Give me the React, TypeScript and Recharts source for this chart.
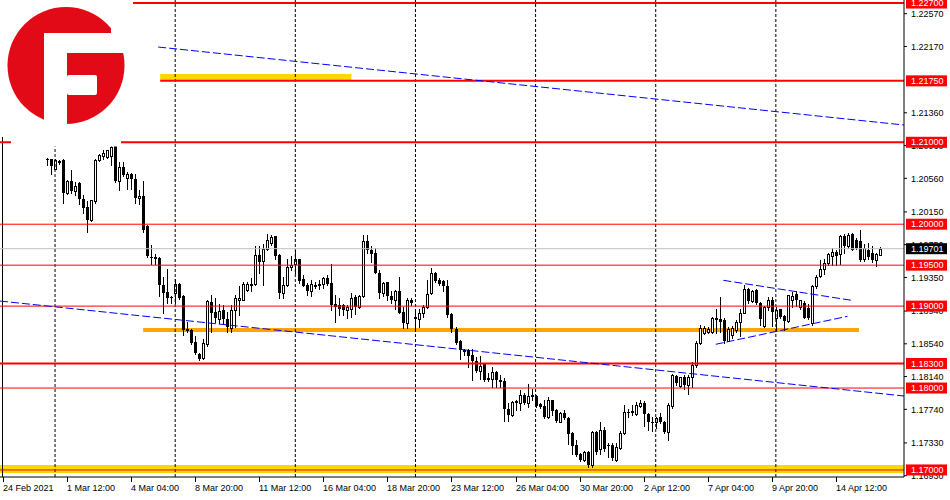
import React from 'react';
import { ComposedChart, Bar, XAxis, YAxis, ReferenceLine, ReferenceArea } from 'recharts';

// EURUSD H4, bars indexed from 24 Feb 2021 (bar 0). First readable bar is 11.
const FIRST_BAR = 11;

const opens = [
  1.2080, 1.2079, 1.2068, 1.2076, 1.2078, 1.2038, 1.2053, 1.2040, 1.2050, 1.2031,
  1.2021, 1.2005, 1.2028, 1.2078, 1.2083, 1.2082, 1.2083, 1.2098, 1.2053, 1.2070,
  1.2057, 1.2061, 1.2055, 1.2032, 1.2035, 1.1998, 1.1960, 1.1959, 1.1959, 1.1926,
  1.1917, 1.1911, 1.1916, 1.1927, 1.1912, 1.1872, 1.1871, 1.1856, 1.1842, 1.1837,
  1.1854, 1.1905, 1.1893, 1.1884, 1.1895, 1.1884, 1.1873, 1.1895, 1.1907, 1.1908,
  1.1920, 1.1926, 1.1927, 1.1963, 1.1955, 1.1970, 1.1977, 1.1985, 1.1962, 1.1916,
  1.1926, 1.1948, 1.1951, 1.1957, 1.1933, 1.1926, 1.1919, 1.1925, 1.1926, 1.1927,
  1.1934, 1.1928, 1.1902, 1.1901, 1.1901, 1.1895, 1.1897, 1.1911, 1.1899, 1.1912,
  1.1980, 1.1969, 1.1965, 1.1941, 1.1916, 1.1929, 1.1912, 1.1908, 1.1918, 1.1893,
  1.1880, 1.1908, 1.1887, 1.1884, 1.1892, 1.1899, 1.1916, 1.1941, 1.1932, 1.1931,
  1.1925, 1.1890, 1.1872, 1.1857, 1.1845, 1.1847, 1.1840, 1.1833, 1.1821, 1.1830,
  1.1812, 1.1811, 1.1820, 1.1810, 1.1808, 1.1774, 1.1767, 1.1783, 1.1782, 1.1792,
  1.1782, 1.1790, 1.1790, 1.1780, 1.1778, 1.1765, 1.1785, 1.1773, 1.1759, 1.1769,
  1.1764, 1.1745, 1.1731, 1.1720, 1.1712, 1.1722, 1.1706, 1.1746, 1.1725, 1.1749,
  1.1731, 1.1731, 1.1712, 1.1727, 1.1745, 1.1771, 1.1771, 1.1768, 1.1778, 1.1782,
  1.1768, 1.1759, 1.1758, 1.1765, 1.1759, 1.1746, 1.1778, 1.1815, 1.1803, 1.1814,
  1.1804, 1.1813, 1.1828, 1.1855, 1.1867, 1.1869, 1.1869, 1.1885, 1.1884, 1.1883,
  1.1858, 1.1865, 1.1871, 1.1881, 1.1892, 1.1921, 1.1906, 1.1920, 1.1904, 1.1876,
  1.1899, 1.1908, 1.1886, 1.1896, 1.1888, 1.1882, 1.1908, 1.1915, 1.1899, 1.1904,
  1.1898, 1.1880, 1.1924, 1.1937, 1.1945, 1.1953, 1.1961, 1.1966, 1.1964, 1.1985,
  1.1973, 1.1988, 1.1981, 1.1980, 1.1957, 1.1969, 1.1965, 1.1956, 1.1963,
];

const highs = [
  1.2081, 1.2080, 1.2079, 1.2078, 1.2079, 1.2054, 1.2066, 1.2051, 1.2051, 1.2036,
  1.2028, 1.2030, 1.2079, 1.2086, 1.2090, 1.2091, 1.2095, 1.2099, 1.2076, 1.2076,
  1.2064, 1.2062, 1.2061, 1.2042, 1.2053, 1.1999, 1.1975, 1.1964, 1.1960, 1.1936,
  1.1945, 1.1912, 1.1933, 1.1928, 1.1913, 1.1881, 1.1872, 1.1864, 1.1843, 1.1860,
  1.1907, 1.1914, 1.1910, 1.1903, 1.1901, 1.1893, 1.1901, 1.1914, 1.1924, 1.1929,
  1.1930, 1.1934, 1.1973, 1.1974, 1.1976, 1.1988, 1.1987, 1.1986, 1.1964, 1.1935,
  1.1958, 1.1961, 1.1968, 1.1958, 1.1938, 1.1928, 1.1932, 1.1930, 1.1932, 1.1936,
  1.1938, 1.1952, 1.1914, 1.1910, 1.1903, 1.1901, 1.1916, 1.1914, 1.1914, 1.1987,
  1.1987, 1.1973, 1.1971, 1.1944, 1.1930, 1.1930, 1.1918, 1.1920, 1.1936, 1.1899,
  1.1910, 1.1910, 1.1897, 1.1897, 1.1901, 1.1932, 1.1946, 1.1942, 1.1934, 1.1932,
  1.1932, 1.1891, 1.1875, 1.1859, 1.1848, 1.1848, 1.1848, 1.1838, 1.1839, 1.1831,
  1.1818, 1.1826, 1.1821, 1.1816, 1.1812, 1.1782, 1.1784, 1.1785, 1.1797, 1.1794,
  1.1805, 1.1799, 1.1791, 1.1782, 1.1785, 1.1789, 1.1786, 1.1774, 1.1771, 1.1773,
  1.1765, 1.1746, 1.1737, 1.1721, 1.1723, 1.1723, 1.1748, 1.1748, 1.1759, 1.1753,
  1.1733, 1.1733, 1.1733, 1.1748, 1.1779, 1.1775, 1.1779, 1.1783, 1.1785, 1.1784,
  1.1769, 1.1765, 1.1765, 1.1769, 1.1760, 1.1782, 1.1817, 1.1816, 1.1814, 1.1816,
  1.1816, 1.1832, 1.1857, 1.1877, 1.1876, 1.1875, 1.1887, 1.1897, 1.1911, 1.1885,
  1.1874, 1.1876, 1.1883, 1.1897, 1.1926, 1.1922, 1.1920, 1.1921, 1.1905, 1.1900,
  1.1911, 1.1911, 1.1899, 1.1897, 1.1889, 1.1914, 1.1917, 1.1919, 1.1908, 1.1906,
  1.1903, 1.1926, 1.1938, 1.1956, 1.1957, 1.1965, 1.1971, 1.1968, 1.1987, 1.1988,
  1.1989, 1.1989, 1.1983, 1.1993, 1.1976, 1.1977, 1.1974, 1.1965, 1.1972,
];

const lows = [
  1.2072, 1.2061, 1.2067, 1.2073, 1.2026, 1.2037, 1.2038, 1.2036, 1.2025, 1.2014,
  1.1990, 1.2004, 1.2026, 1.2077, 1.2079, 1.2081, 1.2072, 1.2052, 1.2042, 1.2059,
  1.2043, 1.2043, 1.2026, 1.2025, 1.1991, 1.1960, 1.1951, 1.1951, 1.1912, 1.1892,
  1.1904, 1.1904, 1.1904, 1.1909, 1.1865, 1.1869, 1.1854, 1.1842, 1.1834, 1.1836,
  1.1851, 1.1869, 1.1881, 1.1879, 1.1878, 1.1869, 1.1868, 1.1875, 1.1889, 1.1907,
  1.1919, 1.1919, 1.1926, 1.1940, 1.1926, 1.1969, 1.1975, 1.1957, 1.1910, 1.1910,
  1.1924, 1.1944, 1.1940, 1.1928, 1.1924, 1.1914, 1.1912, 1.1922, 1.1921, 1.1922,
  1.1926, 1.1895, 1.1881, 1.1889, 1.1889, 1.1885, 1.1887, 1.1890, 1.1898, 1.1911,
  1.1965, 1.1954, 1.1940, 1.1910, 1.1912, 1.1908, 1.1904, 1.1897, 1.1891, 1.1873,
  1.1873, 1.1901, 1.1873, 1.1875, 1.1887, 1.1898, 1.1915, 1.1930, 1.1926, 1.1918,
  1.1887, 1.1869, 1.1854, 1.1835, 1.1840, 1.1826, 1.1810, 1.1820, 1.1811, 1.1809,
  1.1808, 1.1801, 1.1801, 1.1801, 1.1760, 1.1760, 1.1766, 1.1773, 1.1773, 1.1781,
  1.1777, 1.1785, 1.1777, 1.1776, 1.1763, 1.1763, 1.1767, 1.1759, 1.1758, 1.1762,
  1.1732, 1.1720, 1.1717, 1.1711, 1.1711, 1.1704, 1.1704, 1.1719, 1.1719, 1.1723,
  1.1716, 1.1712, 1.1711, 1.1725, 1.1744, 1.1765, 1.1767, 1.1767, 1.1777, 1.1754,
  1.1749, 1.1748, 1.1751, 1.1757, 1.1745, 1.1737, 1.1776, 1.1804, 1.1801, 1.1799,
  1.1793, 1.1801, 1.1826, 1.1854, 1.1866, 1.1867, 1.1867, 1.1867, 1.1869, 1.1855,
  1.1857, 1.1861, 1.1869, 1.1863, 1.1891, 1.1904, 1.1905, 1.1903, 1.1877, 1.1875,
  1.1895, 1.1876, 1.1871, 1.1886, 1.1871, 1.1881, 1.1899, 1.1900, 1.1897, 1.1885,
  1.1884, 1.1877, 1.1922, 1.1936, 1.1939, 1.1950, 1.1950, 1.1950, 1.1952, 1.1965,
  1.1971, 1.1968, 1.1970, 1.1955, 1.1955, 1.1958, 1.1954, 1.1949, 1.1962,
];

const closes = [
  1.2078, 1.2071, 1.2078, 1.2077, 1.2038, 1.2053, 1.2040, 1.2047, 1.2031, 1.2020,
  1.2005, 1.2029, 1.2078, 1.2085, 1.2087, 1.2090, 1.2094, 1.2053, 1.2070, 1.2060,
  1.2061, 1.2055, 1.2032, 1.2035, 1.1993, 1.1961, 1.1959, 1.1960, 1.1926, 1.1916,
  1.1910, 1.1910, 1.1927, 1.1910, 1.1871, 1.1870, 1.1855, 1.1843, 1.1836, 1.1855,
  1.1906, 1.1891, 1.1885, 1.1894, 1.1884, 1.1874, 1.1895, 1.1910, 1.1910, 1.1927,
  1.1927, 1.1927, 1.1962, 1.1954, 1.1970, 1.1981, 1.1984, 1.1961, 1.1916, 1.1926,
  1.1948, 1.1950, 1.1958, 1.1931, 1.1925, 1.1919, 1.1927, 1.1926, 1.1927, 1.1934,
  1.1927, 1.1901, 1.1899, 1.1897, 1.1895, 1.1899, 1.1910, 1.1899, 1.1912, 1.1979,
  1.1968, 1.1964, 1.1941, 1.1916, 1.1928, 1.1912, 1.1908, 1.1918, 1.1892, 1.1880,
  1.1908, 1.1904, 1.1884, 1.1892, 1.1899, 1.1915, 1.1941, 1.1931, 1.1927, 1.1925,
  1.1889, 1.1872, 1.1855, 1.1846, 1.1846, 1.1839, 1.1833, 1.1821, 1.1827, 1.1810,
  1.1810, 1.1820, 1.1810, 1.1807, 1.1774, 1.1767, 1.1783, 1.1784, 1.1792, 1.1782,
  1.1790, 1.1791, 1.1778, 1.1777, 1.1765, 1.1786, 1.1772, 1.1760, 1.1769, 1.1763,
  1.1744, 1.1729, 1.1718, 1.1712, 1.1722, 1.1706, 1.1746, 1.1722, 1.1749, 1.1725,
  1.1729, 1.1714, 1.1728, 1.1745, 1.1771, 1.1770, 1.1772, 1.1779, 1.1782, 1.1768,
  1.1758, 1.1757, 1.1764, 1.1758, 1.1746, 1.1779, 1.1816, 1.1806, 1.1813, 1.1804,
  1.1814, 1.1828, 1.1855, 1.1873, 1.1873, 1.1872, 1.1885, 1.1883, 1.1881, 1.1857,
  1.1872, 1.1873, 1.1881, 1.1892, 1.1921, 1.1906, 1.1919, 1.1904, 1.1884, 1.1899,
  1.1908, 1.1893, 1.1895, 1.1887, 1.1882, 1.1913, 1.1912, 1.1907, 1.1907, 1.1886,
  1.1885, 1.1924, 1.1936, 1.1945, 1.1953, 1.1964, 1.1966, 1.1961, 1.1985, 1.1973,
  1.1987, 1.1969, 1.1971, 1.1956, 1.1971, 1.1960, 1.1956, 1.1964, 1.19701,
];

const timeTickBars = [0, 16, 32, 48, 64, 80, 96, 112, 128, 144, 160, 176, 192, 208];
const timeTickLabels = [
  '24 Feb 2021', '1 Mar 12:00', '4 Mar 04:00', '8 Mar 20:00', '11 Mar 12:00',
  '16 Mar 04:00', '18 Mar 20:00', '23 Mar 12:00', '26 Mar 04:00', '30 Mar 20:00',
  '2 Apr 12:00', '7 Apr 04:00', '9 Apr 20:00', '14 Apr 12:00',
];
const gridBars = [13, 43, 73, 103, 133, 163, 193];

const axisPrices = [
  1.2257, 1.2217, 1.2136, 1.2096, 1.2056, 1.2015, 1.1975,
  1.1935, 1.1894, 1.1854, 1.1814, 1.1774, 1.1733, 1.1693,
];
const levelPrices = [1.227, 1.2175, 1.21, 1.2, 1.195, 1.19, 1.183, 1.18, 1.17];
const thickLevels = [1.227, 1.21, 1.183, 1.2175];
const lastPrice = 1.19701;

// trend lines: [bar, price] -> [bar, price]
const trendFrom = [[-0.75, 1.19062], [38.75, 1.22163], [179.9, 1.19315], [178, 1.18534]];
const trendTo = [[225, 1.17903], [225, 1.21211], [211.9, 1.19071], [210.9, 1.18876]];

const PRICE_MIN = 1.16914;
const PRICE_MAX = 1.22737;
const BAR_MIN = -0.75;
const BAR_MAX = 225;

const candles = opens.map((open, k) => ({
  bar: FIRST_BAR + k,
  open,
  high: highs[k],
  low: lows[k],
  close: closes[k],
  range: [lows[k], highs[k]],
}));

const yTicks = [...axisPrices, lastPrice, ...levelPrices];
const FONT = '"Liberation Sans", Arial, sans-serif';

function Candle(props: any) {
  const { x, y, width, height } = props;
  const d = props.payload || props;
  if (x == null || y == null || d == null) return null;
  const top = Math.min(y, y + height);
  const h = Math.abs(height);
  const span = d.high - d.low;
  const py = (v: number) => top + (span > 0 ? ((d.high - v) / span) * h : 0);
  const col = Math.floor(x + width / 2);
  const yHigh = Math.round(top);
  const yLow = Math.round(top + h);
  const yO = Math.round(py(d.open));
  const yC = Math.round(py(d.close));
  const bt = Math.min(yO, yC);
  const bb = Math.max(yO, yC);
  const bull = d.close > d.open;
  return (
    <g>
      <line x1={col + 0.5} x2={col + 0.5} y1={yHigh} y2={yLow + 1} stroke="#000" strokeWidth={1} shapeRendering="crispEdges" />
      {bull ? (
        <rect x={col - 0.5} y={bt + 0.5} width={2} height={Math.max(bb - bt, 1)} fill="#fff" stroke="#000" strokeWidth={1} shapeRendering="crispEdges" />
      ) : (
        <rect x={col - 1} y={bt} width={3} height={Math.max(bb - bt, 1)} fill="#000" shapeRendering="crispEdges" />
      )}
    </g>
  );
}

function TimeTick(props: any) {
  const { x, y, payload } = props;
  const k = timeTickBars.indexOf(payload.value);
  const px = Math.round(x);
  return (
    <g>
      <line x1={px + 0.5} x2={px + 0.5} y1={y} y2={y + 5} stroke="#000" strokeWidth={1} />
      <text x={px} y={y + 14} fontSize={9} fontFamily={FONT} fill="#000" textAnchor="start">
        {k >= 0 ? timeTickLabels[k] : ''}
      </text>
    </g>
  );
}

function PriceTick(props: any) {
  const { x, y, payload } = props;
  const v = payload.value;
  const isLevel = levelPrices.includes(v);
  const isLast = v === lastPrice;
  const label = v.toFixed(5);
  if (isLevel || isLast) {
    return (
      <g>
        <rect x={x + 2} y={y - 5.5} width={41} height={11} fill={isLast ? '#000' : '#FF0000'} />
        <text x={x + 7} y={y + 3.2} fontSize={9} fontFamily={FONT} fill="#fff">{label}</text>
      </g>
    );
  }
  return (
    <g>
      <line x1={x} x2={x + 3} y1={y} y2={y} stroke="#000" strokeWidth={1} />
      <text x={x + 7} y={y + 3.2} fontSize={9} fontFamily={FONT} fill="#000">{label}</text>
    </g>
  );
}

function Logo() {
  return (
    <svg width={140} height={150} style={{ position: 'absolute', left: 0, top: 0 }}>
      <rect x={0} y={0} width={133} height={137} fill="#fff" />
      <rect x={11} y={137} width={110} height={9.5} fill="#fff" />
      <circle cx={66} cy={65.5} r={58.5} fill="#E30A17" />
      <rect x={44} y={33} width={23} height={100} fill="#fff" />
      <rect x={44} y={33} width={88} height={20} fill="#fff" />
      <rect x={111} y={0} width={22} height={53} fill="#fff" />
      <rect x={67} y={75} width={30} height={20} rx={2} fill="#fff" />
    </svg>
  );
}

export default function App() {
  return (
    <div style={{ position: 'absolute', left: 0, top: 0, width: 950, height: 500, background: '#fff', overflow: 'hidden' }}>
      <ComposedChart width={950} height={500} data={candles} margin={{ top: 0, right: 0, left: 0, bottom: 0 }}>
        <XAxis
          dataKey="bar"
          type="number"
          domain={[BAR_MIN, BAR_MAX]}
          allowDataOverflow
          ticks={timeTickBars}
          interval={0}
          tick={<TimeTick />}
          tickLine={false}
          tickSize={0}
          tickMargin={0}
          height={23}
          axisLine={{ stroke: '#000' }}
        />
        <YAxis
          orientation="right"
          type="number"
          domain={[PRICE_MIN, PRICE_MAX]}
          allowDataOverflow
          ticks={yTicks}
          interval={0}
          width={46}
          tick={<PriceTick />}
          tickLine={false}
          tickSize={0}
          tickMargin={0}
          axisLine={{ stroke: '#000' }}
        />

        <ReferenceArea y1={1.16963} y2={1.1706} fill="#FFD700" fillOpacity={1} stroke="none" />
        <ReferenceArea x1={39.25} x2={87} y1={1.2176} y2={1.21833} fill="#FFD700" fillOpacity={1} stroke="none" />
        <ReferenceArea x1={35} x2={213.75} y1={1.18684} y2={1.18733} fill="#FFA500" fillOpacity={1} stroke="none" />

        {gridBars.map((b) => (
          <ReferenceLine key={'g' + b} x={b} stroke="#000" strokeDasharray="3 2" strokeWidth={1} />
        ))}
        <ReferenceLine x={-0.125} stroke="#000" strokeWidth={1} />

        <ReferenceLine y={lastPrice} stroke="#C0C0C0" strokeWidth={1} />
        {levelPrices.filter((p) => p !== 1.2175).map((p) => (
          <ReferenceLine key={'l' + p} y={p} stroke="#FF0000" strokeWidth={thickLevels.includes(p) ? 2 : 1} />
        ))}
        <ReferenceLine
          segment={[{ x: 39.25, y: 1.2175 }, { x: BAR_MAX, y: 1.2175 }]}
          stroke="#FF0000"
          strokeWidth={2}
          ifOverflow="visible"
        />

        {trendFrom.map((f, k) => (
          <ReferenceLine
            key={'t' + k}
            segment={[{ x: f[0], y: f[1] }, { x: trendTo[k][0], y: trendTo[k][1] }]}
            stroke="#0000FF"
            strokeWidth={1}
            strokeDasharray="8 3"
            ifOverflow="visible"
          />
        ))}

        <Bar dataKey="range" barSize={3} isAnimationActive={false} shape={Candle} />
      </ComposedChart>
      <Logo />
    </div>
  );
}
